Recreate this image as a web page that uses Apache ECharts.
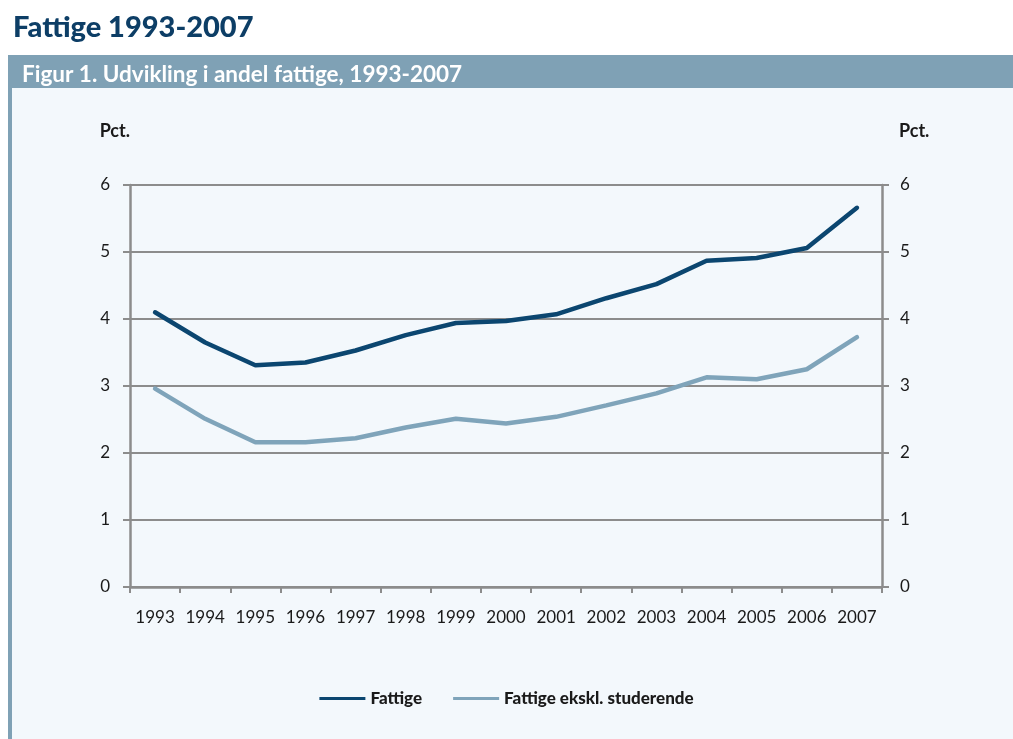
<!DOCTYPE html>
<html>
<head>
<meta charset="utf-8">
<script src="https://cdn.jsdelivr.net/npm/echarts@6/dist/echarts.min.js"></script>
<style>
  html, body { margin: 0; padding: 0; background: #ffffff; }
  #chart { width: 1013px; height: 739px; }
</style>
</head>
<body>
<div id="chart"></div>
<script>
// årstal
const years = ['1993', '1994', '1995', '1996', '1997', '1998', '1999', '2000',
  '2001', '2002', '2003', '2004', '2005', '2006', '2007'];
// andel fattige, pct.
const fattige = [4.10, 3.65, 3.31, 3.35, 3.53, 3.76, 3.94, 3.97,
  4.07, 4.31, 4.52, 4.87, 4.91, 5.06, 5.66];
// andel fattige uden studerende, pct.
const fattigeEksklStud = [2.96, 2.51, 2.16, 2.16, 2.22, 2.38, 2.51, 2.44,
  2.54, 2.71, 2.89, 3.13, 3.10, 3.25, 3.73];

const FONT = 'Lato, "Open Sans", sans-serif';
const darkBlue = '#0b4670';
const lightBlue = '#7fa4ba';
const axisGrey = '#8c8c8c';

const chart = echarts.init(document.getElementById('chart'));

// fælles opsætning for begge y-akser
function yAxisCfg(side) {
  return {
    type: 'value',
    position: side,
    min: 0,
    max: 6,
    interval: 1,
    name: 'Pct.',
    nameLocation: 'end',
    nameGap: 45,
    nameTextStyle: {
      color: '#1a1a1a',
      fontFamily: FONT,
      fontWeight: 700,
      fontSize: 18,
      align: side === 'left' ? 'right' : 'left',
      padding: side === 'left' ? [0, 0, 0, 0] : [0, 0, 0, 17]
    },
    axisLine: { show: true, lineStyle: { color: axisGrey, width: 2.5 } },
    axisTick: { show: true, length: 7, lineStyle: { color: axisGrey, width: 2 } },
    axisLabel: {
      color: '#1a1a1a',
      fontFamily: FONT,
      fontSize: 17,
      margin: side === 'left' ? 20 : 18
    },
    splitLine: { show: side === 'left', lineStyle: { color: axisGrey, width: 2 } }
  };
}

const option = {
  backgroundColor: '#ffffff',
  animation: false,
  // overskrift og figurbjælke
  graphic: [
    { type: 'rect', shape: { x: 8, y: 55, width: 1005, height: 33 }, style: { fill: '#7fa1b5' } },
    { type: 'rect', shape: { x: 8, y: 88, width: 1005, height: 651 }, style: { fill: '#f3f8fc' } },
    { type: 'rect', shape: { x: 8, y: 88, width: 4, height: 651 }, style: { fill: '#7fa1b5' } }
  ],
  title: [
    {
      text: 'Fattige 1993-2007',
      left: 8,
      top: 8,
      textStyle: { color: '#0d3e66', fontFamily: FONT, fontWeight: 900, fontSize: 29 }
    },
    {
      text: 'Figur 1. Udvikling i andel fattige, 1993-2007',
      left: 17,
      top: 58,
      textStyle: { color: '#ffffff', fontFamily: FONT, fontWeight: 700, fontSize: 22.5 }
    }
  ],
  legend: {
    bottom: 27,
    left: 'center',
    itemWidth: 46,
    itemHeight: 3,
    itemGap: 31,
    icon: 'rect',
    textStyle: { color: '#1a1a1a', fontFamily: FONT, fontWeight: 900, fontSize: 17 },
    data: ['Fattige', 'Fattige ekskl. studerende']
  },
  grid: { left: 130, right: 131, top: 185, bottom: 152 },
  xAxis: {
    type: 'category',
    data: years,
    boundaryGap: true,
    axisLine: { lineStyle: { color: axisGrey, width: 2.5 } },
    axisTick: { show: true, length: 6, lineStyle: { color: axisGrey, width: 2 } },
    axisLabel: { color: '#1a1a1a', fontFamily: FONT, fontSize: 17, margin: 22, interval: 0 }
  },
  yAxis: [yAxisCfg('left'), yAxisCfg('right')],
  series: [
    {
      name: 'Fattige',
      type: 'line',
      data: fattige,
      showSymbol: false,
      lineStyle: { color: darkBlue, width: 4.5, cap: 'round' },
      itemStyle: { color: darkBlue }
    },
    {
      name: 'Fattige ekskl. studerende',
      type: 'line',
      data: fattigeEksklStud,
      showSymbol: false,
      lineStyle: { color: lightBlue, width: 4.5, cap: 'round' },
      itemStyle: { color: lightBlue }
    }
  ]
};

chart.setOption(option);
</script>
</body>
</html>
